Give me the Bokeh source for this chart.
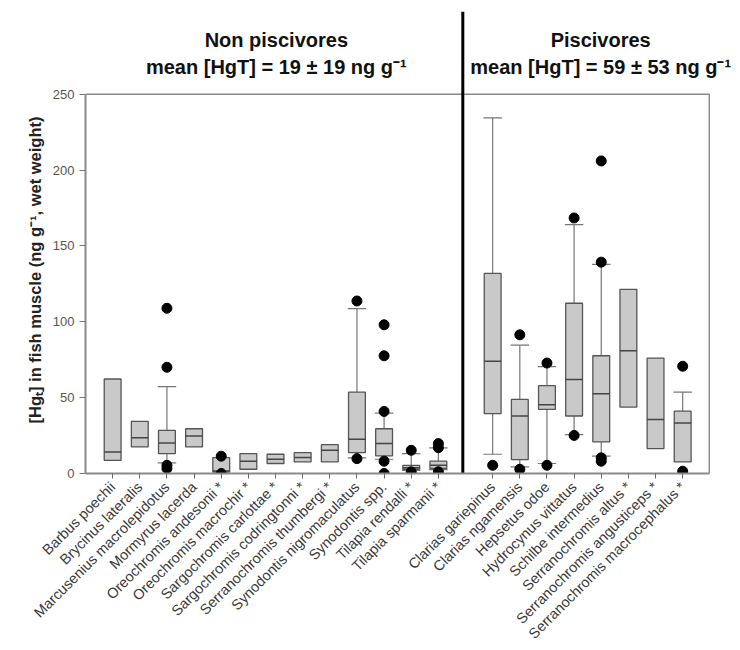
import math
from bokeh.plotting import figure
from bokeh.models import Range1d, FixedTicker
from bokeh.core.properties import value
from bokeh.embed import file_html
from bokeh.resources import INLINE

# ---- data ----
non_piscivores = ["Barbus poechii", "Brycinus lateralis", "Marcusenius macrolepidotus",
                  "Mormyrus lacerda", "Oreochromis andesonii *", "Oreochromis macrochir *",
                  "Sargochromis carlottae *", "Sargochromis codringtonni *",
                  "Serranochromis thumbergi *", "Synodontis nigromaculatus", "Synodontis spp.",
                  "Tilapia rendalli *", "Tilapia sparmanii *"]
piscivores = ["Clarias gariepinus", "Clarias ngamensis", "Hepsetus odoe", "Hydrocynus vittatus",
              "Schilbe intermedius", "Serranochromis altus *", "Serranochromis angusticeps *",
              "Serranochromis macrocephalus *"]

q1 = [8.7, 17.5, 13.1, 17.5, 1.0, 2.8, 6.6, 7.7, 7.7, 13.8, 11.6, 2.8, 3.3,
      39.4, 9.2, 42.2, 37.9, 20.8, 43.8, 16.4, 7.7]
median = [14.2, 23.6, 20.1, 24.7, 1.6, 8.1, 9.4, 10.5, 15.3, 22.5, 19.7, 3.8, 5.4,
          74.0, 37.9, 45.3, 61.9, 52.5, 80.9, 35.6, 33.3]
q3 = [62.3, 34.3, 28.4, 29.5, 10.5, 13.1, 12.7, 13.8, 19.0, 53.6, 29.5, 5.4, 8.1,
      131.9, 48.8, 57.9, 112.2, 77.6, 121.4, 76.1, 41.1]
whisker_low = [None, None, 7.0, None, None, None, None, None, None, 10.3, 9.4, 2.0, 2.5,
               12.7, 4.4, 6.6, 25.6, 11.4, None, None, None]
whisker_high = [None, None, 57.3, None, None, None, None, None, None, 108.7, 39.8, 13.1, 16.9,
                234.4, 84.6, 70.4, 164.0, 137.8, None, None, 53.6]
outliers = [[], [], [108.9, 70.0, 5.4, 3.3], [], [11.4, 0.0], [], [], [], [],
            [113.7, 9.8], [98.0, 77.6, 40.9, 8.1, 0.0], [15.3, 1.1], [19.7, 17.0, 1.1],
            [5.4], [91.4, 2.8], [72.8, 5.4], [168.4, 25.1], [206.0, 139.3, 10.3, 8.1],
            [], [], [70.7, 1.5]]

y_ticks = [0, 50, 100, 150, 200, 250]
group_titles = ["Non piscivores", "Piscivores"]
group_means = ["mean [HgT] = 19 \u00b1 19 ng g\u207b\u00b9", "mean [HgT] = 59 \u00b1 53 ng g\u207b\u00b9"]

# positions: non piscivores, one empty slot (divider), then piscivores
n1 = len(non_piscivores)
names = non_piscivores + piscivores
xs = list(range(n1)) + [n1 + 1 + i for i in range(len(piscivores))]
divider_x = n1 - 0.1

FONT = "Liberation Sans"
X0, X1 = -1.0, 21.98          # plot box extent in x
Y_TOP = 304.5                  # frame reaches up to hold the group titles

p = figure(width=740, height=650, output_backend="svg", toolbar_location=None,
           x_range=Range1d(X0, 23.13), y_range=Range1d(0, Y_TOP))
p.min_border_left = 85
p.min_border_right = 0
p.min_border_top = 11
p.min_border_bottom = 175
p.grid.visible = False
p.outline_line_color = None
p.background_fill_color = "white"
p.border_fill_color = "white"

# axes
p.xaxis.bounds = (X0, X1)
p.xaxis.ticker = FixedTicker(ticks=xs)
p.xaxis.major_label_overrides = {x: n for x, n in zip(xs, names)}
p.xaxis.major_label_orientation = math.pi / 4
p.xaxis.major_label_text_font = FONT
p.xaxis.major_label_text_font_size = "14.5px"
p.xaxis.major_label_text_color = "#3a3a3a"
p.xaxis.major_label_standoff = 6
p.xaxis.major_tick_in = 0
p.xaxis.major_tick_out = 5
p.xaxis.minor_tick_line_color = None
p.xaxis.axis_line_color = "#8a8a8a"
p.xaxis.axis_line_width = 2
p.xaxis.major_tick_line_color = "#666666"

p.yaxis.bounds = (y_ticks[0], y_ticks[-1])
p.yaxis.ticker = FixedTicker(ticks=y_ticks)
p.yaxis.minor_tick_line_color = None
p.yaxis.major_tick_in = 0
p.yaxis.major_tick_out = 6
p.yaxis.axis_line_color = "#8a8a8a"
p.yaxis.axis_line_width = 2
p.yaxis.major_tick_line_color = "#777777"
p.yaxis.major_label_text_font = FONT
p.yaxis.major_label_text_font_size = "13px"
p.yaxis.major_label_text_color = "#555555"
p.yaxis.major_label_standoff = 5
p.yaxis.axis_label = ("[Hg\u209c] in fish muscle (ng g\u207b\u00b9, wet weight)" + "\u00a0" * 12)
p.yaxis.axis_label_text_font = FONT
p.yaxis.axis_label_text_font_style = "bold"
p.yaxis.axis_label_text_font_size = "16.5px"
p.yaxis.axis_label_text_color = "#222222"
p.yaxis.axis_label_standoff = 6

# plot box (top and right edges)
p.line(x=[X0, X1, X1], y=[y_ticks[-1], y_ticks[-1], y_ticks[0]], line_color="#8a8a8a",
       line_width=1.5)

half_box = 0.31
half_cap = 0.34

# whiskers and caps
wx, wy0, wy1 = [], [], []
cx0, cx1, cy = [], [], []
for x, a, b, lo, hi in zip(xs, q1, q3, whisker_low, whisker_high):
    if lo is not None:
        wx.append(x); wy0.append(a); wy1.append(lo)
        cx0.append(x - half_cap); cx1.append(x + half_cap); cy.append(lo)
    if hi is not None:
        wx.append(x); wy0.append(b); wy1.append(hi)
        cx0.append(x - half_cap); cx1.append(x + half_cap); cy.append(hi)
p.segment(x0=wx, y0=wy0, x1=wx, y1=wy1, line_color="#777777", line_width=1.2)
p.segment(x0=cx0, y0=cy, x1=cx1, y1=cy, line_color="#777777", line_width=1.2)

# boxes
p.vbar(x=xs, width=2 * half_box, bottom=q1, top=q3, fill_color="#c9c9c9",
       line_color="#555555", line_width=1.3)
p.segment(x0=[x - half_box for x in xs], y0=median, x1=[x + half_box for x in xs], y1=median,
          line_color="#444444", line_width=1.5)

# outliers
ox, oy = [], []
for x, vals in zip(xs, outliers):
    for v in vals:
        ox.append(x); oy.append(v)
p.scatter(ox, oy, size=10, fill_color="black", line_color="black")

# group divider
p.segment(x0=[divider_x], y0=[0], x1=[divider_x], y1=[Y_TOP], line_color="black", line_width=3)

# group titles
centers = [6.03, 17.98]
p.text(x=centers, y=[285.4, 285.4], text=group_titles, text_align="center",
       text_baseline="middle", text_font=value(FONT), text_font_style="bold",
       text_font_size="20px", text_color="#111111")
p.text(x=centers, y=[267.9, 267.9], text=group_means, text_align="center",
       text_baseline="middle", text_font=value(FONT), text_font_style="bold",
       text_font_size="20px", text_color="#111111")

open("out.html", "w").write(file_html(p, INLINE))
